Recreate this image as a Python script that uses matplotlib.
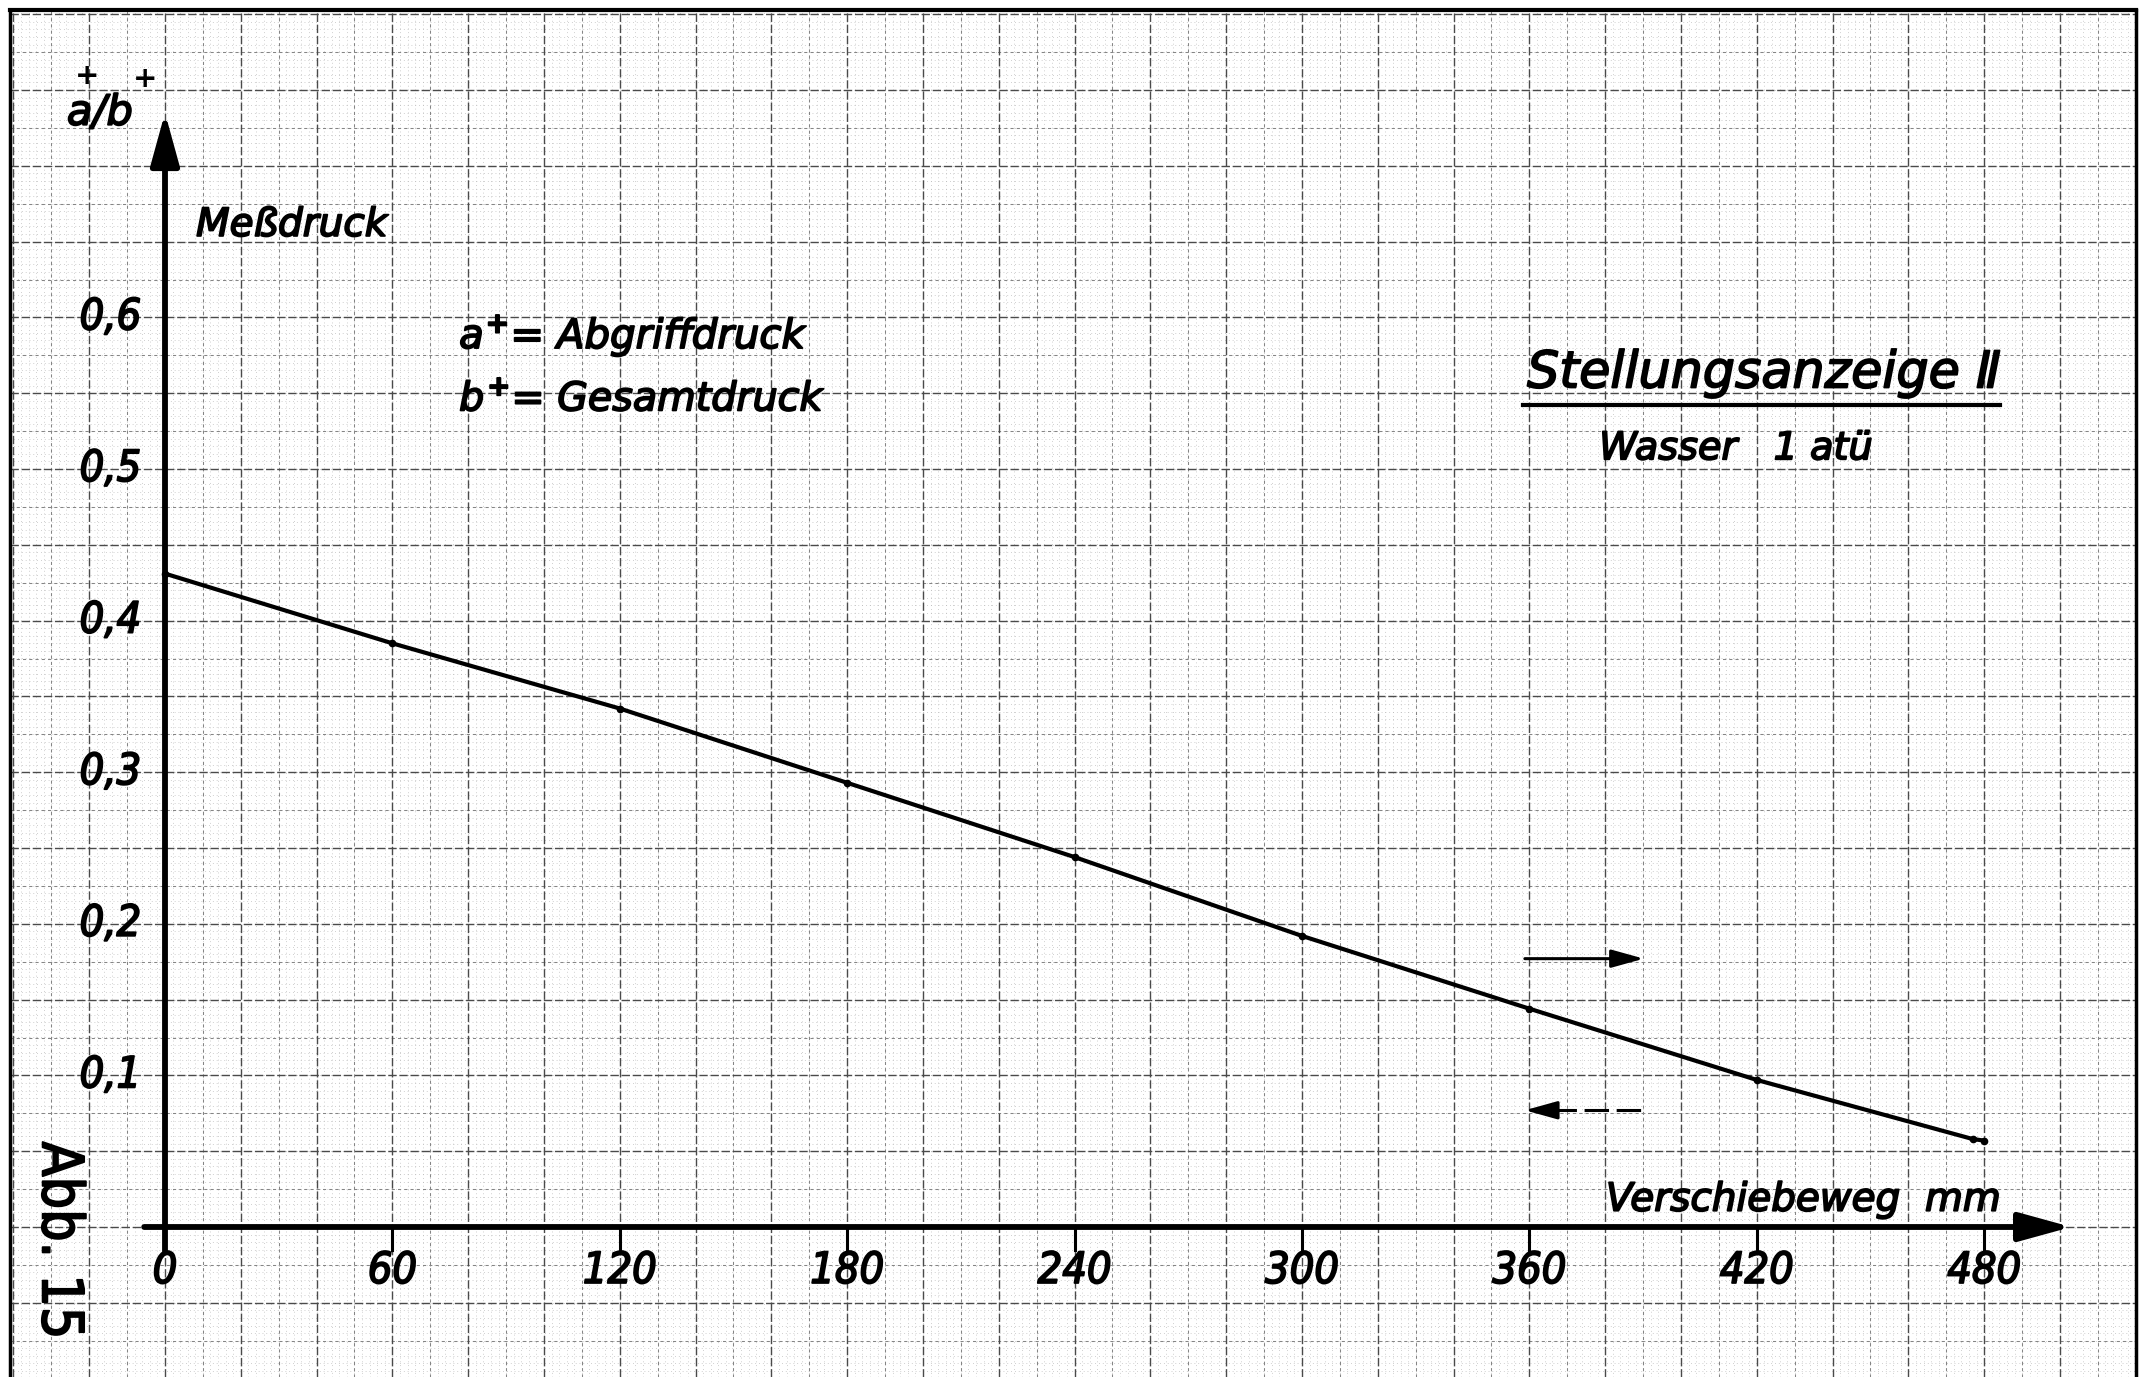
import numpy as np
import matplotlib
matplotlib.use("Agg")
import matplotlib.pyplot as plt
import matplotlib.patheffects as pe

# -----------------------------
# Messwerte (abgelesen)
# -----------------------------
weg_mm = [0, 60, 120, 180, 240, 300, 360, 420, 477, 480]
messdruck = [0.431, 0.385, 0.342, 0.293, 0.244, 0.192, 0.144, 0.097, 0.058, 0.057]

x_ticks = [0, 60, 120, 180, 240, 300, 360, 420, 480]
x_ticklabels = ["0", "60", "120", "180", "240", "300", "360", "420", "480"]
y_ticks = [0.1, 0.2, 0.3, 0.4, 0.5, 0.6]
y_ticklabels = ["0,1", "0,2", "0,3", "0,4", "0,5", "0,6"]

# -----------------------------
# Layout (pixel -> data)
# -----------------------------
W, H = 2148, 1377
X0_PX, Y0_PX = 165, 1227
PX_PER_MM = 3.79
PX_PER_UNIT = 1516.0

XMIN = -X0_PX / PX_PER_MM
XMAX = (W - X0_PX) / PX_PER_MM
YMIN = (Y0_PX - H) / PX_PER_UNIT
YMAX = Y0_PX / PX_PER_UNIT

plt.rcParams["mathtext.fontset"] = "dejavusans"

THICK = [pe.withStroke(linewidth=1.3, foreground="black")]
FONT = dict(family=["DejaVu Sans"], style="oblique", color="black", path_effects=THICK)
FONT_NARROW = dict(FONT, stretch="condensed")

fig = plt.figure(figsize=(W / 100, H / 100), dpi=100)
ax = fig.add_axes([0, 0, 1, 1])
ax.set_xlim(XMIN, XMAX)
ax.set_ylim(YMIN, YMAX)
ax.axis("off")

# -----------------------------
# Millimeterpapier
# -----------------------------
PAPER_L, PAPER_R, PAPER_T = -40.9, 520, 0.8027
fine_x = np.arange(-40, 522, 2)
fine_y = np.arange(-0.1, 0.8, 0.005)
ax.vlines(fine_x, YMIN, PAPER_T, colors="#b4b4b4", lw=0.55, linestyles=(0, (1, 4)), zorder=0)
ax.hlines(fine_y, PAPER_L, PAPER_R, colors="#b4b4b4", lw=0.55, linestyles=(0, (1, 4)), zorder=0)
half_x = np.arange(-30, 520, 20)
half_y = np.arange(-0.075, 0.8, 0.05)
ax.vlines(half_x, YMIN, PAPER_T, colors="#858585", lw=0.75, linestyles=(0, (3, 3)), zorder=0)
ax.hlines(half_y, PAPER_L, PAPER_R, colors="#858585", lw=0.75, linestyles=(0, (3, 3)), zorder=0)
major_x = np.arange(-40, 521, 20)
major_y = np.arange(-0.1, 0.801, 0.05)
ax.vlines(major_x, YMIN, PAPER_T, colors="#4a4a4a", lw=1.0, linestyles=(0, (6, 2)), zorder=0)
ax.hlines(major_y, PAPER_L, PAPER_R, colors="#4a4a4a", lw=1.0, linestyles=(0, (6, 2)), zorder=0)

# Papierrand
ax.plot([PAPER_L, PAPER_R], [PAPER_T, PAPER_T], color="black", lw=3, zorder=1)
ax.plot([PAPER_L, PAPER_L], [YMIN, PAPER_T], color="black", lw=2.5, zorder=1)
ax.plot([PAPER_R, PAPER_R], [YMIN, PAPER_T], color="black", lw=2.5, zorder=1)

# -----------------------------
# Achsen mit Pfeilen
# -----------------------------
axis_arrow = dict(arrowstyle="-|>,head_length=0.8,head_width=0.22", lw=4.2, color="black",
                  mutation_scale=40, shrinkA=0, shrinkB=0)
ax.annotate("", xy=(0, 0.735), xytext=(0, -0.016), arrowprops=axis_arrow, zorder=4)
ax.annotate("", xy=(503, 0), xytext=(-5.5, 0), arrowprops=axis_arrow, zorder=4)

for xt, lab in zip(x_ticks, x_ticklabels):
    if xt > 0:
        ax.plot([xt, xt], [0, -0.015], color="black", lw=2.2, zorder=4)
    ax.text(xt, -0.029, lab, fontsize=31, ha="center", va="center", zorder=5, **FONT_NARROW)

for yt, lab in zip(y_ticks, y_ticklabels):
    ax.text(-6.3, yt, lab, fontsize=31, ha="right", va="center", zorder=5, **FONT_NARROW)

# Messkurve
ax.plot(weg_mm, messdruck, color="black", lw=3.0, marker="o", markersize=4.5, zorder=3)

# -----------------------------
# Beschriftungen
# -----------------------------
ax.text(-17.2, 0.735, "a/b", fontsize=30, ha="center", va="center", zorder=5, **FONT)
ax.text(-20.6, 0.759, "+", fontsize=21, ha="center", va="center", zorder=5,
        family="DejaVu Sans", weight="bold")
ax.text(-5.3, 0.757, "+", fontsize=21, ha="center", va="center", zorder=5,
        family="DejaVu Sans", weight="bold")

ax.text(8.2, 0.661, "Meßdruck", fontsize=28, ha="left", va="center", zorder=5, **FONT)
ax.text(77.6, 0.588, r"$a^{\mathbf{+}}$= Abgriffdruck", fontsize=29, ha="left", va="center",
        zorder=5, **FONT)
ax.text(77.6, 0.546, r"$b^{\mathbf{+}}$= Gesamtdruck", fontsize=28.5, ha="left", va="center",
        zorder=5, **FONT)

ax.text(359.4, 0.563, "Stellungsanzeige Ⅱ", fontsize=36.5, ha="left", va="center", zorder=5, **FONT)
ax.plot([358.3, 484.2], [0.542, 0.542], color="black", lw=3, zorder=5)
ax.text(378.4, 0.513, "Wasser   1 atü", fontsize=27.5, ha="left", va="center", zorder=5, **FONT)

arrow_small = dict(arrowstyle="-|>,head_length=0.9,head_width=0.25", lw=2.2, color="black",
                   mutation_scale=22, shrinkA=0, shrinkB=0)
ax.annotate("", xy=(390.2, 0.177), xytext=(358.8, 0.177), arrowprops=arrow_small, zorder=4)
ax.annotate("", xy=(358.8, 0.077), xytext=(366, 0.077), arrowprops=arrow_small, zorder=4)
ax.plot([366, 390.2], [0.077, 0.077], color="black", lw=2.2, linestyle=(0, (8, 2.5)), zorder=4)

ax.text(380.2, 0.018, "Verschiebeweg  mm", fontsize=28, ha="left", va="center", zorder=5, **FONT)

ax.text(-28.2, -0.009, "Abb. 15", fontsize=41, ha="center", va="center", rotation=-90,
        family="DejaVu Sans", stretch="condensed", path_effects=THICK, zorder=5)

fig.savefig("out.png", dpi=100, facecolor="white")
